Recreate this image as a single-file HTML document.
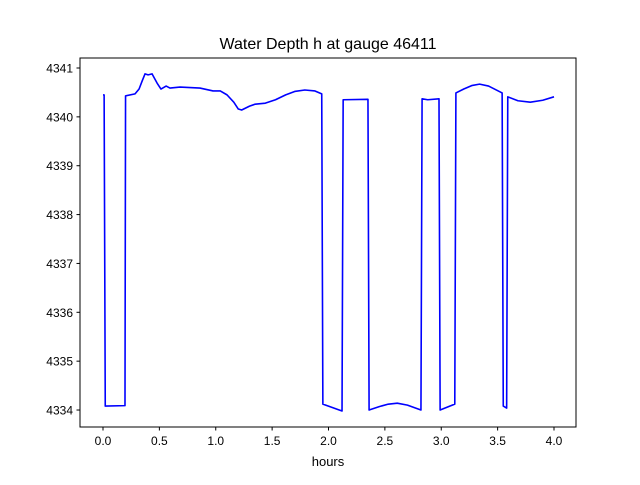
<!DOCTYPE html>
<html><head><meta charset="utf-8"><style>
body{margin:0;background:#fff}
svg text{font-family:"Liberation Sans","DejaVu Sans",sans-serif;fill:#000}
</style></head><body>
<svg id="chart" width="640" height="480" xmlns="http://www.w3.org/2000/svg">
<rect width="640" height="480" fill="#fff"/>
<text x="328" y="49" font-size="16" text-anchor="middle">Water Depth h at gauge 46411</text>
<g id="plot"></g>
<rect x="80" y="58" width="496" height="369" fill="none" stroke="#000" stroke-width="1"/>
<text x="328" y="466" font-size="13" text-anchor="middle">hours</text>
</svg>
<script>
const hours=[0,0.01,0.02,0.195,0.2,0.284,0.32,0.35,0.373,0.40,0.435,0.48,0.514,0.56,0.594,0.683,0.86,0.976,1.04,1.10,1.16,1.20,1.23,1.30,1.35,1.44,1.53,1.62,1.70,1.79,1.88,1.94,1.95,2.12,2.13,2.35,2.36,2.45,2.53,2.61,2.70,2.82,2.83,2.88,2.98,2.99,3.12,3.13,3.20,3.27,3.34,3.42,3.54,3.55,3.58,3.59,3.68,3.79,3.90,4.0];
const depth=[4340.45,4340.45,4334.08,4334.09,4340.43,4340.47,4340.57,4340.75,4340.88,4340.86,4340.88,4340.69,4340.57,4340.63,4340.59,4340.61,4340.59,4340.53,4340.53,4340.45,4340.30,4340.16,4340.14,4340.22,4340.26,4340.28,4340.35,4340.45,4340.52,4340.55,4340.53,4340.47,4334.12,4333.98,4340.35,4340.36,4334.0,4334.07,4334.12,4334.14,4334.1,4334.0,4340.37,4340.35,4340.37,4334.0,4334.12,4340.49,4340.57,4340.64,4340.67,4340.63,4340.49,4334.08,4334.04,4340.41,4340.33,4340.30,4340.34,4340.41];
const xTicks=[0,0.5,1,1.5,2,2.5,3,3.5,4];
const xTickLabels=["0.0","0.5","1.0","1.5","2.0","2.5","3.0","3.5","4.0"];
const yTicks=[4334,4335,4336,4337,4338,4339,4340,4341];
const yTickLabels=["4334","4335","4336","4337","4338","4339","4340","4341"];
const NS="http://www.w3.org/2000/svg";
const X=v=>103+v*112.75;
const Y=v=>68+(4341-v)*48.86;
const g=document.getElementById('plot');
function mk(t,a){const e=document.createElementNS(NS,t);for(const k in a)e.setAttribute(k,a[k]);g.appendChild(e);return e;}
xTicks.forEach((v,i)=>{
 const l=mk('line',{x1:X(v),x2:X(v),y1:427,y2:430.5,stroke:'#000'});
 
 
 const t=mk('text',{x:X(v),y:445,'font-size':12,'text-anchor':'middle'});t.textContent=xTickLabels[i];
 
 
});
yTicks.forEach((v,i)=>{
 const l=mk('line',{x1:76.5,x2:80,y1:Y(v),y2:Y(v),stroke:'#000'});
 
 
 const t=mk('text',{x:73,y:Y(v)+4.5,'font-size':12,'text-anchor':'end'});t.textContent=yTickLabels[i];
 
 
});
const p=mk('polyline',{points:hours.map((h,i)=>X(h)+','+Y(depth[i])).join(' '),fill:'none',stroke:'#0000ff','stroke-width':1.6,'stroke-linejoin':'round'});


</script>
</body></html>
